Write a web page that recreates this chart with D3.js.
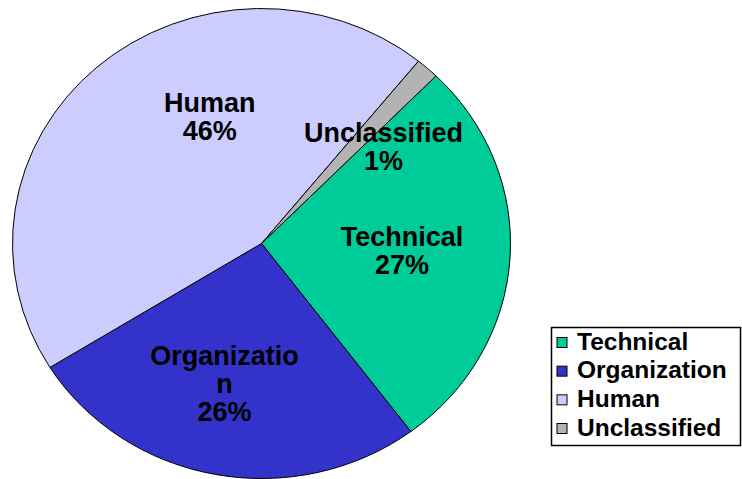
<!DOCTYPE html>
<html>
<head>
<meta charset="utf-8">
<script src="https://cdn.jsdelivr.net/npm/d3@7"></script>
<style>
  body { margin: 0; background: #fff; }
  svg { display: block; font-family: "Liberation Sans", Arial, sans-serif; font-weight: bold; }
</style>
</head>
<body>
<svg id="chart" width="742" height="479"></svg>
<script>
// data
const categories = ["Technical", "Organization", "Human", "Unclassified"]
const shares = [27.4, 26.4, 44.7, 1.5]            // slice sizes as drawn
const percentLabels = ["27%", "26%", "46%", "1%"]  // printed on the slices
const labelLines = [["Technical"], ["Organizatio", "n"], ["Human"], ["Unclassified"]]
const colors = ["#00cc99", "#3333cc", "#ccccff", "#b3b3b3"]

// layout
const width = 742, height = 479
const cx = 261.5, cy = 243.5, rx = 249, ry = 235
const firstSliceAngle = 44.5            // degrees, clockwise from top
const labelAngle = [93, 194, 339, 50]  // where Excel put each label
const labelRadius = [0.565, 0.614, 0.581, 0.64]
const labelFont = 27, lineGap = 28

const svg = d3.select("#chart")

const pie = d3.pie().sort(null).value(d => d)
  .startAngle(firstSliceAngle * Math.PI / 180)
  .endAngle(firstSliceAngle * Math.PI / 180 + 2 * Math.PI)
const slices = pie(shares)

const arc = d3.arc().innerRadius(0).outerRadius(rx)

// pie is an ellipse: draw a circle and squash it vertically
const pieG = svg.append("g")
  .attr("transform", `translate(${cx},${cy}) scale(1,${ry / rx})`)

pieG.selectAll("path")
  .data(slices)
  .enter().append("path")
  .attr("d", arc)
  .attr("fill", (d, i) => colors[i])
  .attr("stroke", "#000")
  .attr("stroke-width", 1)
  .attr("vector-effect", "non-scaling-stroke")
  .attr("stroke-linejoin", "round")

// slice labels
const labelG = svg.append("g")
slices.forEach((s, i) => {
  const a = labelAngle[i] * Math.PI / 180
  const r = labelRadius[i] * rx
  const x = cx + r * Math.sin(a)
  const y = cy - r * Math.cos(a) * ry / rx
  const lines = labelLines[i].concat([percentLabels[i]])
  const t = labelG.append("text")
    .attr("text-anchor", "middle")
    .attr("font-size", labelFont)
    .attr("fill", "#000")
  lines.forEach((line, j) => {
    t.append("tspan")
      .attr("x", x)
      .attr("y", y + (j - (lines.length - 1) / 2) * lineGap + 9.5)
      .text(line)
  })
})

// legend
const legend = svg.append("g").attr("transform", "translate(551,327)")
legend.append("rect")
  .attr("x", 0.5).attr("y", 0.5)
  .attr("width", 189).attr("height", 118)
  .attr("fill", "#fff")
  .attr("stroke", "#000")
  .attr("stroke-width", 1.5)

const legendY = d3.scalePoint().domain(categories).range([14.5, 100.5])

const items = legend.selectAll("g.item")
  .data(categories)
  .enter().append("g")
  .attr("class", "item")
  .attr("transform", d => `translate(0,${legendY(d)})`)

items.append("rect")
  .attr("x", 6).attr("y", -4)
  .attr("width", 10).attr("height", 10)
  .attr("fill", (d, i) => colors[i])
  .attr("stroke", "#000")
  .attr("stroke-width", 1)

items.append("text")
  .attr("x", 26)
  .attr("y", 8)
  .attr("font-size", 24.5)
  .attr("fill", "#000")
  .text(d => d)
</script>
</body>
</html>
